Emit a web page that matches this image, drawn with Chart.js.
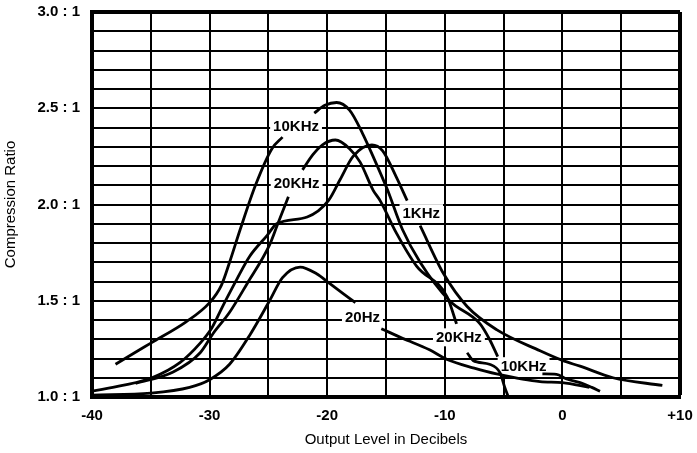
<!DOCTYPE html>
<html>
<head>
<meta charset="UTF-8">
<title>Compression Ratio</title>
<script src="https://cdn.jsdelivr.net/npm/chart.js@4.4.0/dist/chart.umd.min.js"></script>
<style>
  body { margin: 0; background: #fff; }
  #wrap { width: 697px; height: 453px; }
</style>
</head>
<body>
<div id="wrap"><canvas id="myChart" width="697" height="453"></canvas></div>

<script>
// values: output level (dB) and compression ratio (x : 1)
// a null ratio leaves a break in the curve where a label sits on it
var hz20Db     = [-40, -35, -31.7, -30, -28.3, -26.6, -24.9, -23.8, -22.3, -20.9, -19.8, -18.7, -17.6, -16.5, -15.4, -13.6, -11.3, -9.8, -7.5, -5.6, -1.9, 0, 2.3];
var hz20Ratio  = [1.01, 1.02, 1.05, 1.09, 1.17, 1.32, 1.50, 1.62, 1.675, 1.64, 1.59, 1.54, 1.49, null, 1.355, 1.305, 1.245, 1.195, 1.15, 1.12, 1.08, 1.075, 1.05];

var khz1Db     = [-40, -37.4, -34.9, -32.5, -30.8, -29.8, -28.9, -27.7, -26.6, -25.1, -24.3, -21.7, -19.9, -18.9, -17.8, -16.2, -15.3, -14.1, -13.2, -12.6, -12.1, -10.1, -8.1, -5.6, -1.9, 0, 1.5, 4.3, 8.5];
var khz1Ratio  = [1.03, 1.06, 1.10, 1.18, 1.28, 1.36, 1.47, 1.61, 1.73, 1.84, 1.90, 1.935, 2.02, 2.13, 2.25, 2.31, 2.28, 2.14, 2.02, null, 1.89, 1.64, 1.47, 1.35, 1.24, 1.19, 1.16, 1.10, 1.06];

var khz10Db    = [-38, -35, -32, -30, -29, -28.3, -27.4, -26.1, -24.7, -23.8, -22.5, -21.1, -20.2, -19.2, -18.1, -17, -16.1, -14.9, -13.6, -12.1, -9.6, -7.0, -6.2, -5.5, -3.5, -1.7, -0.5, 0.3, 1.5, 2.5, 3.2];
var khz10Ratio = [1.17, 1.28, 1.39, 1.49, 1.58, 1.70, 1.87, 2.10, 2.29, 2.35, null, 2.475, 2.515, 2.53, 2.49, 2.37, 2.25, 2.08, 1.87, 1.70, 1.50, 1.38, 1.30, 1.21, null, 1.12, 1.118, 1.095, 1.075, 1.05, 1.03];

var khz20Db    = [-36.3, -33.1, -30.8, -29.7, -28.3, -26.8, -24.9, -24.2, -23.3, -22.7, -22.1, -21.2, -20.4, -19.3, -18.1, -17.2, -16.1, -15.5, -14.1, -12.4, -9.8, -9.0, -8.5, -8.1, -7.6, -6.2, -5.3, -4.9, -4.6];
var khz20Ratio = [1.07, 1.13, 1.23, 1.33, 1.44, 1.59, 1.79, 1.90, 2.04, null, 2.18, 2.26, 2.31, 2.335, 2.29, 2.22, 2.075, 2.02, 1.85, 1.68, 1.52, 1.38, null, 1.23, 1.19, 1.17, 1.125, 1.05, 1.0];

// labels written on the curves
var labelText  = ['10KHz', '20KHz', '1KHz', '20Hz', '20KHz', '10KHz'];
var labelDb    = [-22.65, -22.6, -12.0, -17.0, -8.8, -3.3];
var labelRatio = [2.41, 2.11, 1.955, 1.415, 1.31, 1.16];

// axis ticks that carry text
var dbTicks    = [-40, -30, -20, -10, 0, 10];
var ratioTicks = [1.0, 1.5, 2.0, 2.5, 3.0];

Chart.defaults.font.family = '"Liberation Sans", Arial, Helvetica, sans-serif';
Chart.defaults.color = '#000';

function toPoints(xs, ys) {
  return xs.map(function (x, i) { return { x: x, y: ys[i] }; });
}

var curveLabels = {
  id: 'curveLabels',
  beforeDatasetsDraw: function (chart) {
    var ctx = chart.ctx, x = chart.scales.x, y = chart.scales.y;
    ctx.save();
    ctx.font = 'bold 15px "Liberation Sans", Arial, sans-serif';
    ctx.textAlign = 'center';
    ctx.textBaseline = 'middle';
    for (var i = 0; i < labelText.length; i++) {
      var px = x.getPixelForValue(labelDb[i]);
      var py = y.getPixelForValue(labelRatio[i]);
      var w = ctx.measureText(labelText[i]).width;
      ctx.fillStyle = '#fff';
      ctx.fillRect(px - w / 2 - 3, py - 9, w + 6, 18);
      ctx.fillStyle = '#000';
      ctx.fillText(labelText[i], px, py + 1);
    }
    ctx.restore();
  }
};

var ctx = document.getElementById('myChart').getContext('2d');
var myChart = new Chart(ctx, {
  type: 'line',
  data: {
    datasets: [
      { label: '20Hz',  data: toPoints(hz20Db, hz20Ratio) },
      { label: '1KHz',  data: toPoints(khz1Db, khz1Ratio) },
      { label: '10KHz', data: toPoints(khz10Db, khz10Ratio) },
      { label: '20KHz', data: toPoints(khz20Db, khz20Ratio) }
    ]
  },
  options: {
    responsive: false,
    animation: false,
    layout: { padding: { top: 12, right: 17, left: 0, bottom: 0 } },
    plugins: { legend: { display: false }, tooltip: { enabled: false } },
    elements: {
      point: { radius: 0 },
      line: { borderColor: '#000', borderWidth: 2.8, cubicInterpolationMode: 'monotone', fill: false }
    },
    scales: {
      x: {
        type: 'linear',
        min: -40,
        max: 10,
        // fixed plot frame, the tick labels may hang over the edges
        afterFit: function (s) { s.height = 56; s.paddingLeft = 0; s.paddingRight = 0; },
        ticks: {
          stepSize: 5,
          autoSkip: false,
          maxRotation: 0,
          padding: 10,
          font: { size: 15, weight: 'bold' },
          callback: function (v) {
            if (dbTicks.indexOf(v) < 0) return '';
            return v > 0 ? '+' + v : String(v);
          }
        },
        grid: {
          color: '#000',
          drawTicks: false,
          lineWidth: function (c) { return c.tick && c.tick.value === 10 ? 4 : 2; }
        },
        border: { color: '#000', width: 4 },
        title: { display: true, text: 'Output Level in Decibels', font: { size: 15 }, padding: { top: 4, bottom: 4 } }
      },
      y: {
        min: 1,
        max: 3,
        afterFit: function (s) { s.width = 92; s.paddingTop = 0; s.paddingBottom = 0; },
        ticks: {
          stepSize: 0.1,
          maxTicksLimit: 40,
          autoSkip: false,
          padding: 12,
          font: { size: 15, weight: 'bold' },
          callback: function (v) {
            for (var i = 0; i < ratioTicks.length; i++) {
              if (Math.abs(v - ratioTicks[i]) < 1e-6) return ratioTicks[i].toFixed(1) + ' : 1';
            }
            return '';
          }
        },
        grid: {
          color: '#000',
          drawTicks: false,
          lineWidth: function (c) { return c.tick && Math.abs(c.tick.value - 3) < 1e-6 ? 4 : 2; }
        },
        border: { color: '#000', width: 4 },
        title: { display: true, text: 'Compression Ratio', font: { size: 15 }, padding: { top: 2, bottom: 4 } }
      }
    }
  },
  plugins: [curveLabels]
});
</script>
</body>
</html>
